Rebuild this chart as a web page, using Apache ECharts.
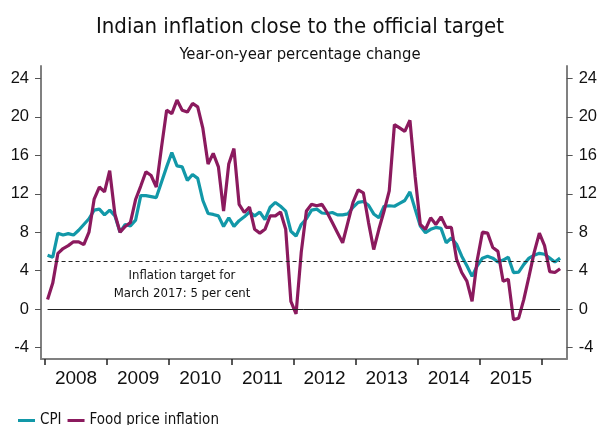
<!DOCTYPE html>
<html>
<head>
<meta charset="utf-8">
<script src="https://cdn.jsdelivr.net/npm/echarts@6/dist/echarts.min.js"></script>
<style>html,body{margin:0;padding:0;background:#fff;}#chart{width:600px;height:425px;}</style>
</head>
<body>
<div id="chart"></div>
<script>
// Monthly data, Jan 2008 - Apr 2016 (year-on-year % change)
const startYear = 2008;
const cpi = [
  5.6, 5.4, 7.9, 7.7, 7.85, 7.7, 8.2, 8.8, 9.4, 10.3, 10.4, 9.8,
  10.3, 9.7, 8.0, 8.8, 8.65, 9.25, 11.8, 11.8, 11.7, 11.6, 13.2, 14.8,
  16.3, 14.9, 14.8, 13.4, 14.0, 13.6, 11.3, 9.95, 9.85, 9.7, 8.6, 9.5,
  8.6, 9.2, 9.6, 10.1, 9.7, 10.1, 9.3, 10.6, 11.1, 10.7, 10.2, 8.1,
  7.6, 8.8, 9.4, 10.3, 10.4, 10.0, 9.95, 10.05, 9.8, 9.8, 9.9, 10.6,
  11.1, 11.2, 10.8, 9.9, 9.5, 10.7, 10.75, 10.7, 11.0, 11.3, 12.2, 10.4,
  8.65, 7.95, 8.3, 8.5, 8.4, 6.9, 7.4, 6.75, 5.5, 4.5, 3.4, 4.5,
  5.3, 5.5, 5.3, 4.9, 5.1, 5.4, 3.8, 3.85, 4.65, 5.3, 5.6, 5.8,
  5.7, 5.3, 4.9, 5.3
];
const food = [
  1.0, 2.7, 5.8, 6.3, 6.6, 7.0, 7.0, 6.7, 8.0, 11.45, 12.7, 12.2,
  14.4, 9.9, 8.0, 8.6, 9.0, 11.4, 12.8, 14.3, 13.9, 12.7, 16.8, 20.7,
  20.35, 21.75, 20.7, 20.5, 21.4, 21.05, 18.8, 15.1, 16.2, 14.8, 10.2, 15.1,
  16.7, 10.9, 10.05, 10.6, 8.3, 7.9, 8.3, 9.7, 9.7, 10.1, 8.3, 0.8,
  -0.5, 5.9, 10.2, 10.9, 10.75, 10.9, 10.05, 9.0, 7.95, 6.9, 9.0, 11.1,
  12.4, 12.1, 9.0, 6.2, 8.3, 10.2, 12.3, 19.2, 18.85, 18.5, 19.65, 13.8,
  8.8, 8.3, 9.5, 8.8, 9.6, 8.5, 8.5, 5.2, 3.8, 2.9, 0.8, 5.1,
  8.0, 7.9, 6.4, 6.0, 2.9, 3.1, -1.1, -0.95, 1.0, 3.4, 5.9, 7.9,
  6.6, 3.9, 3.8, 4.2
];
const yTicks = [-4, 0, 4, 8, 12, 16, 20, 24];
const yearLabels = ['2008', '2009', '2010', '2011', '2012', '2013', '2014', '2015'];
const targetValue = 5;
const seriesNames = ['CPI', 'Food price inflation'];
const titleText = 'Indian inflation close to the official target';
const subtitleText = 'Year-on-year percentage change';
const noteText = 'Inflation target for\nMarch 2017: 5 per cent';

// month index -> x value (points at mid-month)
const toXY = arr => arr.map((v, i) => [i + 0.5, v]);
const yearStarts = yearLabels.map((_, k) => k * 12).concat([yearLabels.length * 12]);
const yearMids = yearLabels.map((_, k) => k * 12 + 6);
const firstX = 0.5, lastX = cpi.length - 0.5;

const NARROW = "'Liberation Sans Narrow', 'DejaVu Sans Condensed', 'Liberation Sans', sans-serif";
const NUM = "'Liberation Sans', 'DejaVu Sans', sans-serif";
const teal = '#1298a8';
const purple = '#8b1a5e';

const yAxisBase = {
  type: 'value', min: -5.2, max: 25.3,
  splitLine: { show: false },
  axisLine: { show: true, onZero: false, lineStyle: { color: '#808080', width: 2 } },
  axisTick: { show: true, customValues: yTicks, length: 6, lineStyle: { color: '#555', width: 1 } },
  axisLabel: { customValues: yTicks, fontSize: 16.5, color: '#111', margin: 12, fontFamily: NUM }
};

const chart = echarts.init(document.getElementById('chart'), null, { renderer: 'canvas' });
chart.setOption({
  animation: false,
  backgroundColor: '#fff',
  title: [
    { text: titleText, left: 'center', top: 11, textStyle: { fontSize: 22, fontWeight: 'normal', color: '#111', fontFamily: NARROW } },
    { text: subtitleText, left: 'center', top: 41, textStyle: { fontSize: 16.5, fontWeight: 'normal', color: '#111', fontFamily: NARROW } }
  ],
  legend: {
    left: 13, top: 408, itemWidth: 17, itemHeight: 3, itemGap: 6, icon: 'rect',
    textStyle: { fontSize: 15, color: '#111', fontFamily: NARROW },
    data: seriesNames
  },
  grid: { left: 41, right: 33, top: 66, bottom: 66, containLabel: false },
  xAxis: {
    type: 'value', min: -0.77, max: 100.77,
    splitLine: { show: false },
    axisLine: { show: true, onZero: false, lineStyle: { color: '#808080', width: 2 } },
    axisTick: { show: true, customValues: yearStarts, length: 6, lineStyle: { color: '#222', width: 1.5 } },
    axisLabel: {
      customValues: yearMids, fontSize: 19, color: '#111', margin: 10, fontFamily: NUM,
      formatter: v => yearLabels[Math.round((v - 6) / 12)]
    }
  },
  yAxis: [
    Object.assign({}, yAxisBase, { position: 'left' }),
    Object.assign({}, yAxisBase, { position: 'right' })
  ],
  graphic: [
    { type: 'text', x: 182, y: 267, silent: true,
      style: { text: noteText, fill: '#111', font: "13px " + NARROW, textAlign: 'center', textVerticalAlign: 'top', lineHeight: 18 } }
  ],
  series: [
    {
      name: seriesNames[0], type: 'line', data: toXY(cpi), showSymbol: false, symbol: 'none',
      color: teal, lineStyle: { color: teal, width: 3.2 },
      markLine: {
        silent: true, symbol: ['none', 'none'], label: { show: false },
        data: [
          [{ coord: [firstX, 0], lineStyle: { color: '#222', width: 1, type: 'solid' } }, { coord: [lastX, 0] }],
          [{ coord: [firstX, targetValue], lineStyle: { color: '#222', width: 1, type: [4, 3] } }, { coord: [lastX, targetValue] }]
        ]
      }
    },
    {
      name: seriesNames[1], type: 'line', data: toXY(food), showSymbol: false, symbol: 'none',
      color: purple, lineStyle: { color: purple, width: 3.2 }
    }
  ]
});
</script>
</body>
</html>
